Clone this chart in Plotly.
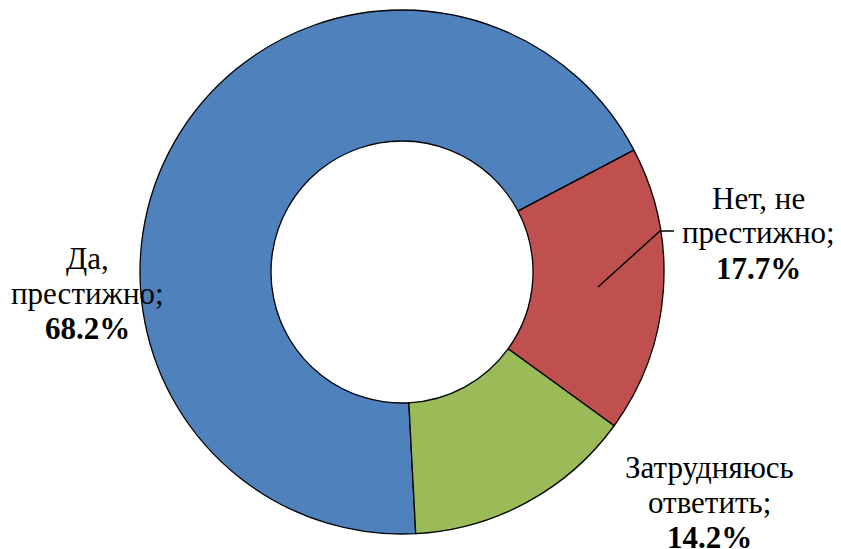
import plotly.graph_objects as go

W, H = 841, 549
OFF = 8                      # page body margin
FW, FH = W - OFF, H - OFF    # figure size

categories = ["Да, престижно", "Нет, не престижно", "Затрудняюсь ответить"]
values = [68.2, 17.7, 14.2]
colors = ["#4F81BD", "#C0504D", "#9BBB59"]
label_lines = [["Да,", "престижно;"], ["Нет, не", "престижно;"], ["Затрудняюсь", "ответить;"]]


def px(x):
    return (x - OFF) / FW


def py(y):
    return 1 - (y - OFF) / FH


fig = go.Figure(go.Pie(
    labels=categories,
    values=values,
    hole=0.5,
    sort=False,
    direction="clockwise",
    rotation=177,
    marker=dict(colors=colors, line=dict(color="black", width=1.3)),
    textinfo="none",
    hoverinfo="label+percent",
    domain=dict(x=[px(140), px(664)], y=[py(536), py(8)]),
    showlegend=False,
))

# label anchors: centre x, baseline of first line (page pixels), line step
label_pos = [(87, 268), (758, 208), (709, 477)]
STEP = 35
FS = 31
family = "Liberation Serif, Times New Roman, serif"
for lines, v, (cx, base) in zip(label_lines, values, label_pos):
    all_lines = lines + [f"<b>{v:.1f}%</b>"]
    for i, t in enumerate(all_lines):
        b = base + i * STEP
        fig.add_annotation(
            x=px(cx), y=py(b - 10), xref="paper", yref="paper",
            text=t, showarrow=False, align="center",
            xanchor="center", yanchor="middle",
            font=dict(family=family, size=FS, color="black"),
        )

# leader line for the red slice
pts = [(598, 287), (660, 231), (674, 231)]
path = "M " + " L ".join(f"{px(x)} {py(y)}" for x, y in pts)
fig.add_shape(type="path", xref="paper", yref="paper", path=path,
              line=dict(color="black", width=1.5))

fig.update_layout(
    width=FW, height=FH,
    margin=dict(l=0, r=0, t=0, b=0),
    paper_bgcolor="white", plot_bgcolor="white",
)

fig.write_html("out.html")
